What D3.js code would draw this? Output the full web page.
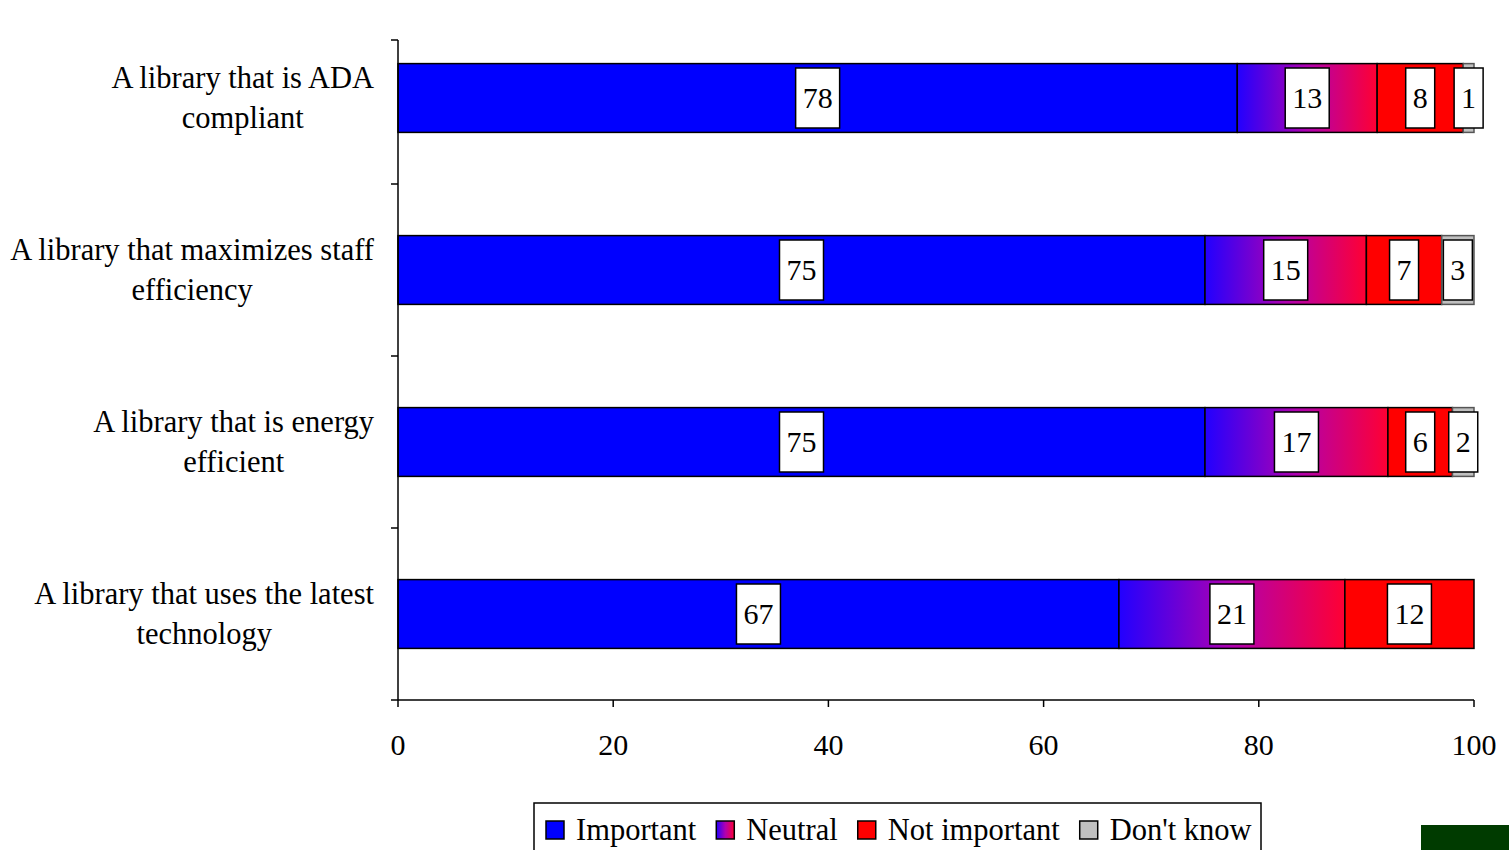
<!DOCTYPE html>
<html>
<head>
<meta charset="utf-8">
<script src="https://cdn.jsdelivr.net/npm/d3@7/dist/d3.min.js"></script>
<style>
  html, body { margin: 0; padding: 0; background: #fff; }
  svg { display: block; }
  text { font-family: "Liberation Serif", "Times New Roman", serif; fill: #000; }
</style>
</head>
<body>
<svg id="chart" width="1509" height="850"></svg>
<script>
// ---- Data ----
const categories = [
  ["A library that is ADA", "compliant"],
  ["A library that maximizes staff", "efficiency"],
  ["A library that is energy", "efficient"],
  ["A library that uses the latest", "technology"]
];
const seriesNames = ["Important", "Neutral", "Not important", "Don't know"];
const important    = [78, 75, 75, 67];
const neutral      = [13, 15, 17, 21];
const notImportant = [8, 7, 6, 12];
const dontKnow     = [1, 3, 2, 0];
const xTicks = [0, 20, 40, 60, 80, 100];

// ---- Layout ----
const svg = d3.select("#chart");
const left = 398, right = 1474, bandTop = 12, bandBottom = 700, axisTop = 40;
const fontSize = 30;

const x = d3.scaleLinear().domain([0, 100]).range([left, right]);
const y = d3.scaleBand().domain(d3.range(categories.length))
  .range([bandTop, bandBottom]).paddingInner(0.6).paddingOuter(0.3);

// gradient for neutral
const defs = svg.append("defs");
const grad = defs.append("linearGradient").attr("id", "neutralGrad")
  .attr("x1", "0").attr("y1", "0").attr("x2", "1").attr("y2", "0");
grad.append("stop").attr("offset", "0").attr("stop-color", "#2200ff");
grad.append("stop").attr("offset", "0.5").attr("stop-color", "#b000b0");
grad.append("stop").attr("offset", "1").attr("stop-color", "#ff0033");

const fills = ["#0000ff", "url(#neutralGrad)", "#ff0000", "#c0c0c0"];
const strokes = ["#000", "#000", "#000", "#555"];

const seriesVals = [important, neutral, notImportant, dontKnow];
const stackData = categories.map((c, i) => {
  let acc = 0;
  return seriesVals.map((arr, s) => {
    const v = arr[i];
    const seg = { cat: i, s, v, x0: acc, x1: acc + v };
    acc += v;
    return seg;
  });
});

// ---- Bars ----
const gBars = svg.append("g");
stackData.forEach(row => {
  row.filter(d => d.v > 0).forEach(d => {
    gBars.append("rect")
      .attr("x", x(d.x0)).attr("y", y(d.cat))
      .attr("width", x(d.x1) - x(d.x0)).attr("height", y.bandwidth())
      .attr("fill", fills[d.s]).attr("stroke", strokes[d.s]).attr("stroke-width", 1.5);
  });
});

// ---- Value labels ----
const gLabels = svg.append("g");
stackData.forEach(row => {
  row.filter(d => d.v > 0).forEach(d => {
    const cx = x((d.x0 + d.x1) / 2);
    const cy = y(d.cat) + y.bandwidth() / 2;
    const g = gLabels.append("g");
    const t = g.append("text").attr("x", cx).attr("y", cy + 10)
      .attr("text-anchor", "middle").attr("font-size", fontSize).text(d.v);
    const w = t.node().getComputedTextLength();
    g.insert("rect", "text")
      .attr("x", cx - w / 2 - 7).attr("y", cy - 30)
      .attr("width", w + 14).attr("height", 60)
      .attr("fill", "#fff").attr("stroke", "#000").attr("stroke-width", 1.5);
  });
});

// ---- Axes ----
const gAxis = svg.append("g").attr("stroke", "#000").attr("stroke-width", 1.5);
gAxis.append("line").attr("x1", left).attr("x2", left).attr("y1", axisTop).attr("y2", bandBottom);
gAxis.append("line").attr("x1", left).attr("x2", right).attr("y1", bandBottom).attr("y2", bandBottom);
// y ticks at band boundaries
const step = y.step();
const yBound = d3.range(categories.length + 1).map(i => Math.max(axisTop, bandBottom - i * step));
yBound.forEach(v => gAxis.append("line").attr("x1", left - 7).attr("x2", left).attr("y1", v).attr("y2", v));
// x ticks
xTicks.forEach(t => gAxis.append("line").attr("x1", x(t)).attr("x2", x(t)).attr("y1", bandBottom).attr("y2", bandBottom + 7));
svg.append("g").selectAll("text").data(xTicks).join("text")
  .attr("x", d => x(d)).attr("y", 755).attr("text-anchor", "middle")
  .attr("font-size", fontSize).text(d => d);

// ---- Category labels ----
const gCat = svg.append("g");
categories.forEach((lines, i) => {
  const cy = y(i) + y.bandwidth() / 2;
  const g = gCat.append("g");
  const texts = lines.map((ln, k) => g.append("text")
    .attr("y", cy - 10 + k * 40).attr("text-anchor", "middle")
    .attr("font-size", 30.5).text(ln));
  const maxW = d3.max(texts, t => t.node().getComputedTextLength());
  texts.forEach(t => t.attr("x", 374 - maxW / 2));
});

// ---- Legend ----
const gLeg = svg.append("g");
gLeg.append("rect").attr("x", 534).attr("y", 803).attr("width", 727).attr("height", 60)
  .attr("fill", "#fff").attr("stroke", "#000").attr("stroke-width", 1.5);
let lx = 546;
seriesNames.forEach((name, s) => {
  gLeg.append("rect").attr("x", lx).attr("y", 821).attr("width", 18).attr("height", 18)
    .attr("fill", fills[s]).attr("stroke", "#000").attr("stroke-width", 1.5);
  const t = gLeg.append("text").attr("x", lx + 30).attr("y", 840)
    .attr("font-size", 30.5).text(name);
  lx += 30 + t.node().getComputedTextLength() + 20;
});

// decorative dark green box bottom right
svg.append("rect").attr("x", 1421).attr("y", 825).attr("width", 88).attr("height", 25).attr("fill", "#003b00");
</script>
</body>
</html>
